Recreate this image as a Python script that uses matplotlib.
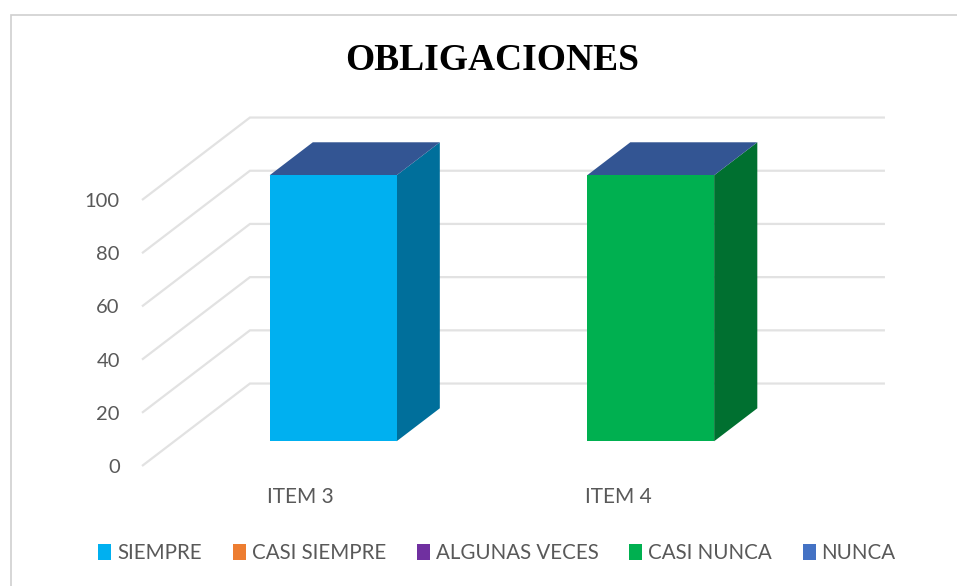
import matplotlib
matplotlib.use("Agg")
import matplotlib.pyplot as plt
from matplotlib.patches import Patch, Polygon, Rectangle

# Datos del grafico
categorias = ["ITEM 3", "ITEM 4"]
series = ["SIEMPRE", "CASI SIEMPRE", "ALGUNAS VECES", "CASI NUNCA", "NUNCA"]
siempre = [100, 0]
casi_siempre = [0, 0]
algunas_veces = [0, 0]
casi_nunca = [0, 100]
nunca = [0, 0]
valores = [siempre, casi_siempre, algunas_veces, casi_nunca, nunca]
ticks_y = [0, 20, 40, 60, 80, 100]

colores = ["#00B0F0", "#ED7D31", "#7030A0", "#00B050", "#4472C4"]
laterales = ["#006F9B", "#A9561F", "#4B1F6E", "#007030", "#2F5597"]
color_tapa = "#335593"
color_grid = "#E2E2E2"
color_texto = "#595959"

plt.rcParams["font.family"] = ["Lato", "DejaVu Sans"]

fig = plt.figure(figsize=(9.57, 5.86), dpi=100)
ax = fig.add_axes([142 / 957, 120 / 586, 635 / 957, 266 / 586])
ax.set_xlim(-0.5, 1.5)
ax.set_ylim(0, 100)

# Profundidad del falso 3D en unidades de los ejes
prof_x = 0.34
prof_y = 31.0
ancho = 0.4


def desplazar(x, y, p):
    # p = 0 plano frontal, p = 1 plano del fondo
    return x + prof_x * p, y + prof_y * p


# Lineas de la cuadricula: diagonal y luego horizontal al fondo
for t in ticks_y:
    xs = [-0.5, -0.5 + prof_x, 1.5 + prof_x]
    ys = [t, t + prof_y, t + prof_y]
    ax.plot(xs, ys, color=color_grid, lw=1.6, clip_on=False, zorder=1,
            solid_capstyle="butt", solid_joinstyle="miter")


def caja(x, base, alto, frente, lado):
    p0, p1 = 0.3, 0.7
    izq, der = x - ancho / 2, x + ancho / 2
    tope = base + alto
    cara = [desplazar(izq, base, p0), desplazar(der, base, p0),
            desplazar(der, tope, p0), desplazar(izq, tope, p0)]
    costado = [desplazar(der, base, p0), desplazar(der, base, p1),
               desplazar(der, tope, p1), desplazar(der, tope, p0)]
    tapa = [desplazar(izq, tope, p0), desplazar(der, tope, p0),
            desplazar(der, tope, p1), desplazar(izq, tope, p1)]
    ax.add_patch(Polygon(costado, color=lado, clip_on=False, zorder=3, lw=0))
    ax.add_patch(Polygon(tapa, color=color_tapa, clip_on=False, zorder=3, lw=0))
    ax.add_patch(Polygon(cara, color=frente, clip_on=False, zorder=4, lw=0))


for i in range(len(categorias)):
    base = 0
    for s in range(len(series)):
        v = valores[s][i]
        if v > 0:
            caja(i, base, v, colores[s], laterales[s])
        base += v

ax.set_xticks(range(len(categorias)))
ax.set_xticklabels(categorias)
ax.set_yticks(ticks_y)
ax.tick_params(axis="x", length=0, pad=15.2, labelsize=15, labelcolor=color_texto)
ax.tick_params(axis="y", length=0, pad=16, labelsize=14.5, labelcolor=color_texto)
for lado in ax.spines.values():
    lado.set_visible(False)

fig.text(492 / 957, 1 - 60 / 586, "OBLIGACIONES", ha="center", va="center",
         fontsize=27, fontweight="bold", family="Liberation Serif", color="black")

manijas = [Patch(facecolor=c, edgecolor="none") for c in colores]
fig.legend(manijas, series, loc="center", bbox_to_anchor=(497 / 957, 1 - 553 / 586),
           ncol=5, frameon=False, fontsize=14.8, labelcolor=color_texto,
           handlelength=0.64, handleheight=0.78, handletextpad=0.28,
           columnspacing=1.5, borderpad=0, borderaxespad=0)

# Marco del grafico, abierto por la derecha y por abajo
fig.add_artist(Rectangle((11 / 957, -0.05), 1.1, 1 - 15 / 586 + 0.05,
                         transform=fig.transFigure, fill=False,
                         edgecolor="#CFCFCF", lw=1.2))

fig.savefig("out.png", dpi=100)
